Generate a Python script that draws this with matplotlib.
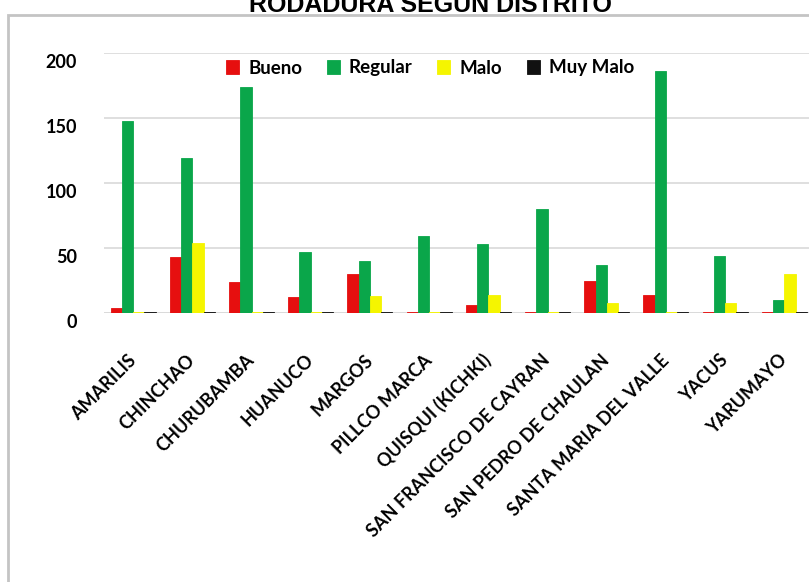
import numpy as np
import matplotlib.pyplot as plt
from matplotlib.patches import Rectangle
from matplotlib.transforms import ScaledTranslation

distritos = ['AMARILIS', 'CHINCHAO', 'CHURUBAMBA', 'HUANUCO', 'MARGOS',
             'PILLCO MARCA', 'QUISQUI (KICHKI)', 'SAN FRANCISCO DE CAYRAN',
             'SAN PEDRO DE CHAULAN', 'SANTA MARIA DEL VALLE', 'YACUS', 'YARUMAYO']
bueno = [4, 43, 24, 12, 30, 1, 6, 1, 25, 14, 1, 1]
regular = [148, 119, 174, 47, 40, 59, 53, 80, 37, 186, 44, 10]
malo = [1, 54, 1, 1, 13, 1, 14, 1, 8, 1, 8, 30]
muy_malo = [1, 1, 1, 1, 1, 1, 1, 1, 1, 1, 1, 1]

series = [('Bueno', bueno, '#e60f0f'), ('Regular', regular, '#0aa64a'),
          ('Malo', malo, '#f5f500'), ('Muy Malo', muy_malo, '#111111')]

W, H = 809, 582
fig = plt.figure(figsize=(W / 100, H / 100), dpi=100)
fig.patch.set_facecolor('white')

# chart frame (cut off at the right and bottom)
fig.patches.append(Rectangle((8 / W, -0.1), 1.2, 1 - 15 / H + 0.1,
                             transform=fig.transFigure, fill=False,
                             edgecolor='#c4c4c4', lw=2))

ax = fig.add_axes([103.5 / W, 1 - 313 / H, (814 - 103.5) / W, (313 - 53) / H])

x = np.arange(len(distritos))
bw = 0.19
for i, (name, vals, col) in enumerate(series):
    ax.bar(x + (i - 1.5) * bw, vals, bw, color=col, label=name,
           edgecolor=col, linewidth=0.6, zorder=3)

ax.set_xlim(-0.5, len(distritos) - 0.5)
ax.set_ylim(0, 200)
ax.set_yticks([0, 50, 100, 150, 200])
ax.grid(axis='y', color='#d9d9d9', lw=1.2, zorder=0)
for s in ax.spines.values():
    s.set_visible(False)
ax.axhline(0, color='#d9d9d9', lw=1.2, zorder=1)
ax.tick_params(length=0)
ax.tick_params(axis='y', pad=19)
ax.tick_params(axis='x', pad=32)
ax.set_xticks(x)
ax.set_xticklabels(distritos, rotation=45, ha='right', va='center',
                   rotation_mode='anchor', fontsize=13,
                   family='Lato', fontweight='bold')
shift = ScaledTranslation(0, -8 / 100, fig.dpi_scale_trans)
for t in ax.get_yticklabels():
    t.set_fontsize(13)
    t.set_family('Lato')
    t.set_fontweight('bold')
    t.set_transform(t.get_transform() + shift)

ax.legend(loc='center', bbox_to_anchor=(430 / W, 1 - 68 / H),
          bbox_transform=fig.transFigure, ncol=4, frameon=False,
          handlelength=0.7, handleheight=0.7, handletextpad=0.5,
          columnspacing=1.3, prop={'family': 'Lato', 'weight': 'bold', 'size': 13.5})

fig.text(430 / W, 1 - 12 / H, 'RODADURA SEGUN DISTRITO', ha='center',
         va='baseline', fontsize=18, fontweight='bold', family='Liberation Sans')

fig.savefig('out.png', dpi=100)
